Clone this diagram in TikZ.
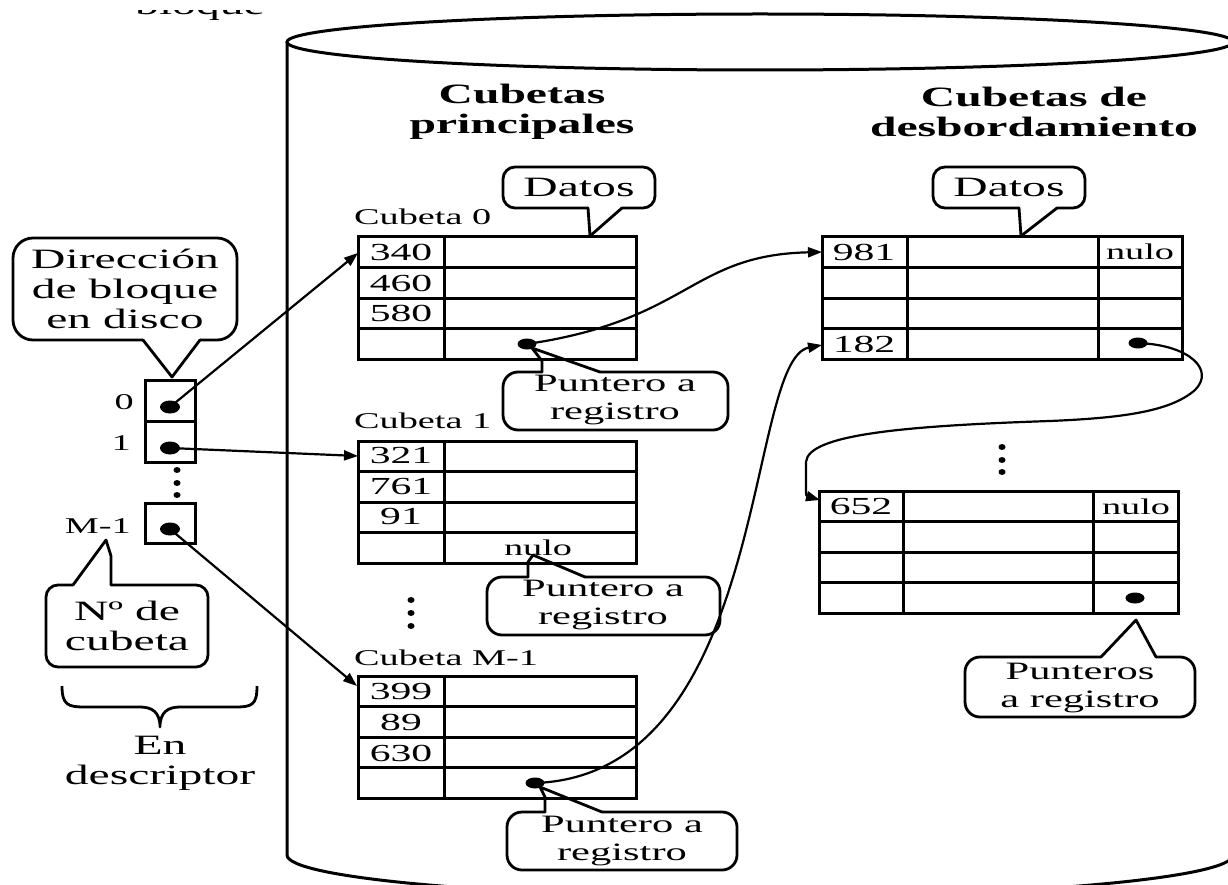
\documentclass[tikz,border=0pt]{standalone}
\usepackage{fontspec}
\setmainfont{Liberation Serif}[FakeStretch=1.7]
\usetikzlibrary{arrows.meta,shapes.geometric}

\newcommand\FBig{\fontsize{28}{30}\selectfont}
\newcommand\FMid{\fontsize{25}{28}\selectfont}
\newcommand\FNum{\fontsize{24.5}{26}\selectfont}
\newcommand\FSmall{\fontsize{22.5}{24}\selectfont}

% table of a primary bucket: 4 rows, two columns; #1 = top edge
\newcommand\primtable[1]{%
  \draw[cell] (358,#1) rectangle (636,{#1+122});
  \foreach \r in {1,2,3} \draw[cell] (358,{#1+30.5*\r}) -- (636,{#1+30.5*\r});
  \draw[cell] (444,#1) -- (444,{#1+122});
}
% table of an overflow bucket: #1 left, #2 first divider, #3 second divider, #4 right, #5 top
\newcommand\ovftable[5]{%
  \draw[cell] (#1,#5) rectangle (#4,{#5+122});
  \foreach \r in {1,2,3} \draw[cell] (#1,{#5+30.5*\r}) -- (#4,{#5+30.5*\r});
  \draw[cell] (#2,#5) -- (#2,{#5+122});
  \draw[cell] (#3,#5) -- (#3,{#5+122});
}

\tikzset{
  cyl/.style={line width=3pt},
  cell/.style={line width=3pt},
  bub/.style={line width=2.8pt, fill=white, line join=round, line cap=round},
  tl/.style={line width=2.8pt, line join=round, line cap=round},
  con/.style={line width=2.2pt, -{Triangle[length=14pt,width=10pt]}},
  pdot/.style={ellipse, fill=black, inner sep=0pt, minimum width=19pt, minimum height=11pt},
  ddot/.style={ellipse, fill=black, inner sep=0pt, minimum width=20pt, minimum height=13pt},
  vdot/.style={ellipse, fill=black, inner sep=0pt, minimum width=7pt, minimum height=6pt},
  num/.style={font=\FNum, inner sep=0pt},
  lbl/.style={font=\FSmall, inner sep=0pt, anchor=west},
  txt/.style={align=center, inner sep=0pt},
}

\begin{document}
\begin{tikzpicture}[x=1pt, y=-1pt]
\useasboundingbox (0,0) rectangle (1228,885);
\clip (0,0) rectangle (1228,885);

% word cut off at the upper edge
\begin{scope}
  \clip (100,11) rectangle (320,30);
  \node[anchor=base west, font=\FBig, inner sep=0pt] (blq) at (135,15) {bloque};
\end{scope}

% disk cylinder
\draw[cyl] (760,42) ellipse [x radius=473, y radius=28];
\draw[cyl] (287,42) -- (287,855) arc[start angle=180, end angle=0, x radius=473, y radius=42] -- (1233,42);

% headings
\node[txt, font=\bfseries\FBig] (hprin) at (522,112) {Cubetas\\principales};
\node[txt, font=\bfseries\FBig] (hdesb) at (1034,112) {Cubetas de\\desbordamiento};

% primary buckets
\node[lbl] (lc0) at (354,217) {Cubeta 0};
\primtable{237}
\node[lbl] (lc1) at (354,421) {Cubeta 1};
\primtable{441}
\node[lbl] (lcm) at (354,658) {Cubeta M-1};
\primtable{676}

\node[num] (v340) at (401,252) {340};
\node[num] (v460) at (401,283) {460};
\node[num] (v580) at (401,313) {580};
\node[num] (v321) at (401,456) {321};
\node[num] (v761) at (401,487) {761};
\node[num] (v91)  at (401,517) {91};
\node[num] (v399) at (401,692) {399};
\node[num] (v89)  at (401,722) {89};
\node[num] (v630) at (401,753) {630};
\node[font=\FSmall, inner sep=0pt] (nul1) at (538,548) {nulo};

% overflow buckets
\ovftable{822}{907}{1098}{1182}{237}
\ovftable{819}{903}{1093}{1178}{491}
\node[num] (v981) at (864,252) {981};
\node[num] (v182) at (864,344) {182};
\node[num] (v652) at (861,507) {652};
\node[font=\FSmall, inner sep=0pt] (nul2) at (1140,252) {nulo};
\node[font=\FSmall, inner sep=0pt] (nul3) at (1136,507) {nulo};

% vertical ellipses
\node[vdot] (e1) at (411,600) {};
\node[vdot] (e2) at (411,613) {};
\node[vdot] (e3) at (411,626) {};
\node[vdot] (e4) at (1002,447) {};
\node[vdot] (e5) at (1002,460) {};
\node[vdot] (e6) at (1002,472) {};
\node[vdot] (e7) at (177,470) {};
\node[vdot] (e8) at (177,483) {};
\node[vdot] (e9) at (177,495) {};

% bucket address table of the descriptor
\draw[cell] (145,380) rectangle (195,462);
\draw[cell] (145,421) -- (195,421);
\draw[cell] (145,503) rectangle (195,543);
\node[font=\FSmall, inner sep=0pt, anchor=east] (i0) at (134,402) {0};
\node[font=\FSmall, inner sep=0pt, anchor=east] (i1) at (131,443) {1};
\node[font=\FSmall, inner sep=0pt, anchor=east] (im) at (131,526) {M-1};

% callouts
\filldraw[bub, rounded corners=20pt] (143,340) -- (13,340) -- (13,238) -- (237,238) -- (237,340) -- (200,340);
\draw[tl] (143,340) -- (172,377) -- (200,340);
\node[txt, font=\FBig, text depth=0pt] (cdir) at (125,289) {Dirección\\de bloque\\en disco};

\filldraw[bub, rounded corners=12pt] (588,208) -- (503,208) -- (503,167) -- (655,167) -- (655,208) -- (622,208);
\draw[tl] (588,208) -- (590,236) -- (622,208);
\node[font=\FBig, inner sep=0pt] (cdat1) at (579,187) {Datos};

\filldraw[bub, rounded corners=12pt] (1019,208) -- (933,208) -- (933,167) -- (1085,167) -- (1085,208) -- (1057,208);
\draw[tl] (1019,208) -- (1021,236) -- (1057,208);
\node[font=\FBig, inner sep=0pt] (cdat2) at (1009,187) {Datos};

\filldraw[bub, rounded corners=15pt] (542,372) -- (503,372) -- (503,430) -- (728,430) -- (728,372) -- (600,372);
\draw[tl] (542,372) -- (542,361) -- (532,348) -- (600,372);
\node[txt, font=\FMid] (cp1) at (615,400) {Puntero a\\registro};

\filldraw[bub, rounded corners=15pt] (528,577) -- (487,577) -- (487,635) -- (720,635) -- (720,577) -- (585,577);
\draw[tl] (528,577) -- (528,562) -- (533,555) -- (585,577);
\node[txt, font=\FMid] (cp2) at (603,605) {Puntero a\\registro};

\filldraw[bub, rounded corners=15pt] (545,812) -- (507,812) -- (507,870) -- (737,870) -- (737,812) -- (602,812);
\draw[tl] (545,812) -- (545,797) -- (540,787) -- (602,812);
\node[txt, font=\FMid] (cp3) at (622,841) {Puntero a\\registro};

\filldraw[bub, rounded corners=15pt] (1101,657) -- (965,657) -- (965,717) -- (1195,717) -- (1195,657) -- (1156,657);
\draw[tl] (1101,657) -- (1136,620) -- (1156,657);
\node[txt, font=\FMid] (cps) at (1080,688) {Punteros\\a registro};

\filldraw[bub, rounded corners=12pt] (73,585) -- (46,585) -- (46,667) -- (208,667) -- (208,585) -- (111,585);
\draw[tl] (73,585) -- (106,540) -- (111,556) -- (111,585);
\node[txt, font=\FBig, text depth=0pt] (cnum) at (127,626) {Nº de\\cubeta};

% brace and its caption
\draw[line width=2.8pt, line join=round] (62,686) .. controls (62,705) and (68,707) .. (85,707) -- (140,707)
  .. controls (152,707) and (160,712) .. (160,727)
  .. controls (160,712) and (168,707) .. (180,707) -- (235,707)
  .. controls (252,707) and (257,705) .. (257,686);
\node[txt, font=\FBig] (cdesc) at (160,763) {En\\descriptor};

% pointer dots
\node[ddot] (dz0) at (170,407) {};
\node[ddot] (dz1) at (170,448) {};
\node[ddot] (dzm) at (170,529) {};
\node[pdot] (p0) at (527,344) {};
\node[pdot] (pm) at (535,783) {};
\node[pdot] (q0) at (1138,343) {};
\node[pdot] (q1) at (1135,598) {};

% arrow targets
\coordinate (b0in) at (358,253);
\coordinate (b1in) at (358,456);
\coordinate (bmin) at (357,686);
\coordinate (o0in) at (822,252);
\coordinate (o0ib) at (822,345);
\coordinate (o1in) at (820,500);

% connectors
\draw[con] (dz0.center) -- (b0in);
\draw[con] (dz1.center) -- (b1in);
\draw[con] (dzm.center) -- (bmin);
\draw[con] (p0.center) .. controls (690,320) and (690,255) .. (o0in);
\draw[con] (pm.center) .. controls (770,775) and (745,360) .. (o0ib);
\draw[con] (q0.center) .. controls (1190,345) and (1215,370) .. (1195,390)
  .. controls (1170,412) and (1120,418) .. (1050,421)
  .. controls (900,426) and (808,435) .. (806,462) -- (806,486)
  .. controls (806,496) .. (o1in);
\end{tikzpicture}
\end{document}
